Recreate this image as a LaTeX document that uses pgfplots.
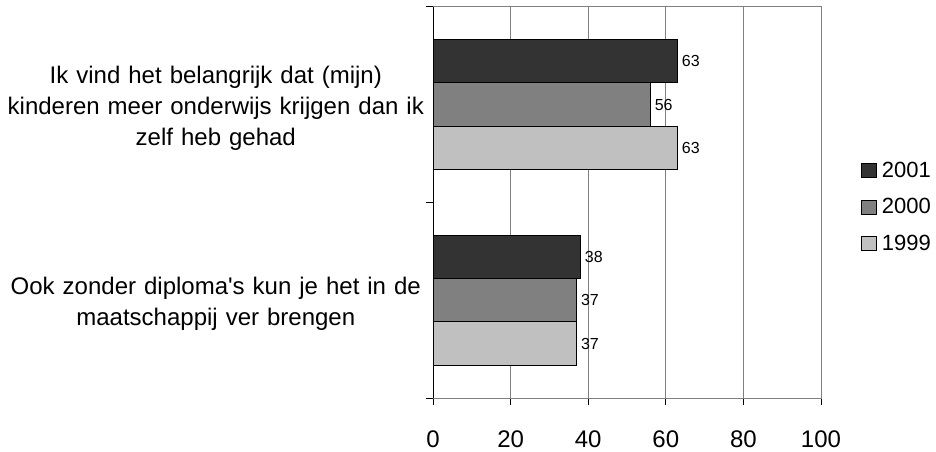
\documentclass[border=0pt]{standalone}
\usepackage{fontspec}
\setmainfont{Liberation Sans}
\usepackage{pgfplots}
\pgfplotsset{compat=1.18}

\definecolor{c2001}{HTML}{333333}
\definecolor{c2000}{HTML}{808080}
\definecolor{c1999}{HTML}{C0C0C0}

\begin{document}
\begin{tikzpicture}
\useasboundingbox (0,0) rectangle (936bp,452bp);
\begin{axis}[
  at={(433bp,54bp)}, anchor=south west,
  scale only axis,
  width=388bp, height=391bp,
  xbar, bar width=0.2225,
  xmin=0, xmax=100,
  ymin=-0.5, ymax=1.5,
  xtick={0,20,...,100},
  ytick={-0.5,0.5,1.5},
  yticklabels={,,},
  extra y ticks={0,1},
  extra y tick labels={
    {Ook zonder diploma\textquotesingle s kun je het in de\\maatschappij ver brengen},
    {Ik vind het belangrijk dat (mijn)\\kinderen meer onderwijs krijgen dan ik\\zelf heb gehad}},
  extra y tick style={major tick length=0pt},
  xtick pos=bottom, ytick pos=left,
  tick align=outside,
  major tick length=7bp,
  tick style={black, line width=1bp},
  xmajorgrids,
  grid style={draw=black!50, line width=1bp},
  axis line style={draw=black!50, line width=1bp},
  /pgf/number format/assume math mode=true,
  xticklabel style={font=\fontsize{24bp}{28bp}\selectfont, yshift=-22bp},
  yticklabel style={font=\fontsize{24bp}{31bp}\selectfont, text width=420bp, align=center, inner sep=0pt, xshift=-7bp, yshift=-4bp},
  point meta=x,
  nodes near coords,
  every node near coord/.append style={font=\fontsize{16bp}{18bp}\selectfont, anchor=west, inner sep=0pt, xshift=4bp, black},
  legend style={at={(1,0.4885)}, anchor=west, xshift=40bp, draw=none, fill=none,
    font=\fontsize{22bp}{26bp}\selectfont, row sep=15.5bp, inner sep=0pt},
  legend cell align=left,
  /tikz/every odd column/.append style={column sep=3bp},
  legend image code/.code={\draw[#1, draw=black, line width=0.8bp] (0bp,-7bp) rectangle (15bp,7bp);},
]
\addplot[bar shift=0.2225, fill=c2001, draw=black, line width=1bp]
  coordinates {(63,1) (38,0)};
\addlegendentry{2001}
\addplot[bar shift=0, fill=c2000, draw=black, line width=1bp]
  coordinates {(56,1) (37,0)};
\addlegendentry{2000}
\addplot[bar shift=-0.2225, fill=c1999, draw=black, line width=1bp]
  coordinates {(63,1) (37,0)};
\addlegendentry{1999}
\draw[black, line width=1bp] (rel axis cs:0,1) -- (rel axis cs:0,0) -- (rel axis cs:1,0);
\end{axis}
\end{tikzpicture}
\end{document}
